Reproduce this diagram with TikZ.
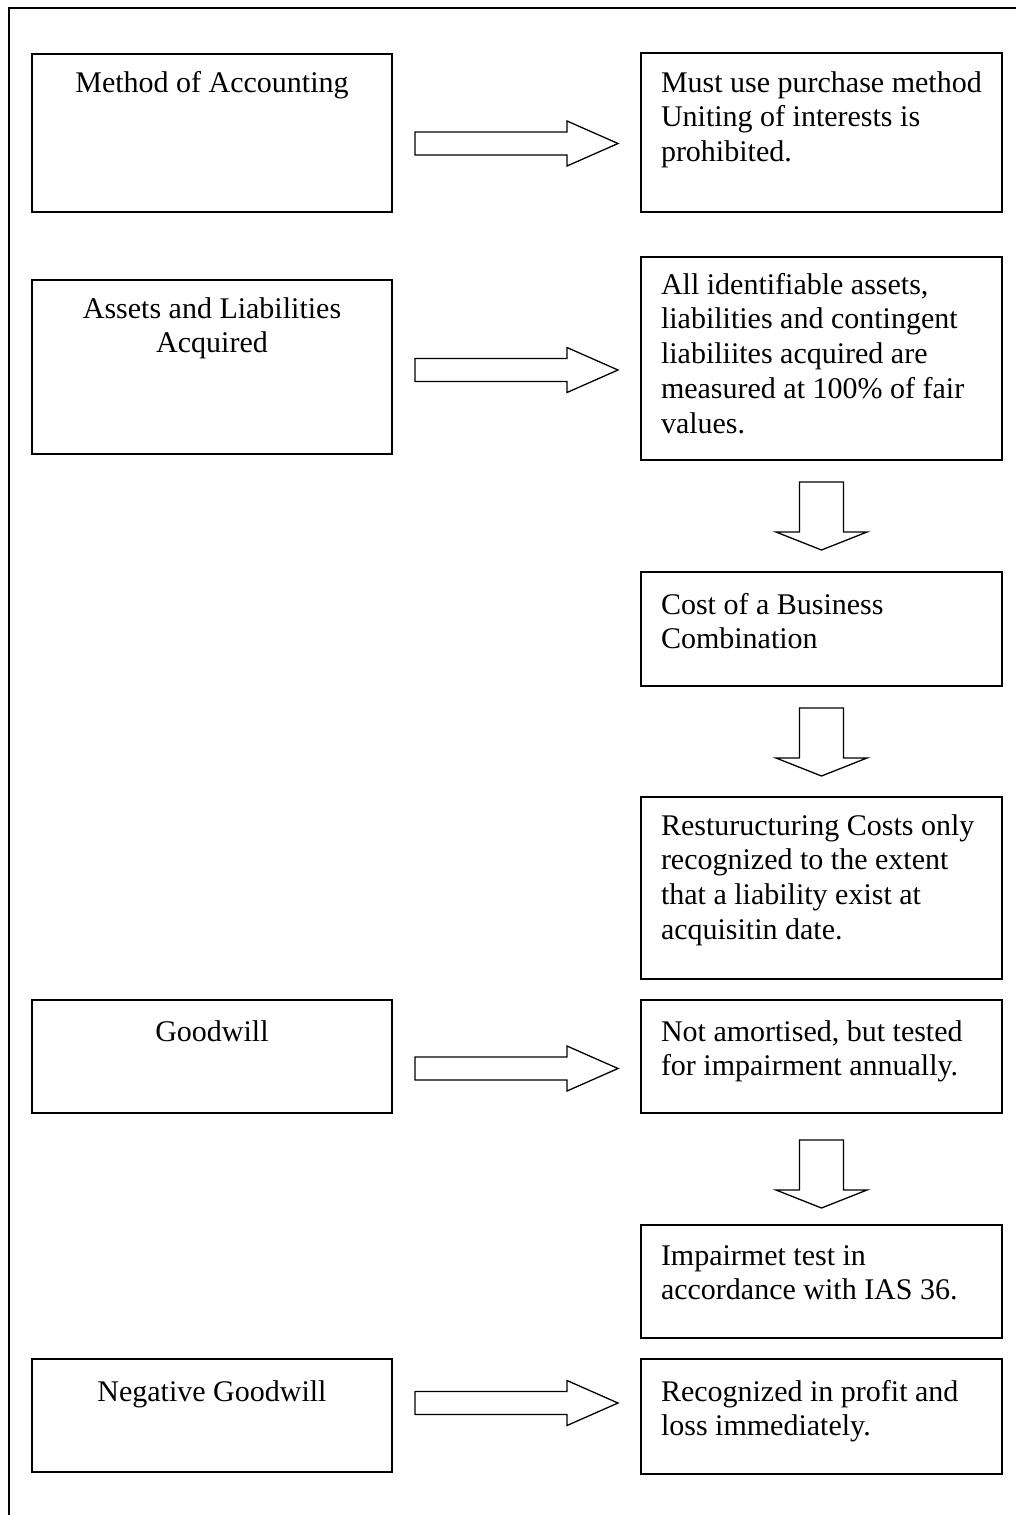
\documentclass[tikz,border=0pt]{standalone}
\usepackage{fontspec}
\setmainfont{Liberation Serif}
% text blocks whose reference point is the baseline of their first line
\newcommand\leftlines[1]{\vtop{\baselineskip=34.75pt\lineskiplimit=-100pt\halign{##\hfil\cr#1\crcr}}}
\newcommand\centerlines[1]{\vtop{\baselineskip=34.75pt\lineskiplimit=-100pt\halign{\hfil##\hfil\cr#1\crcr}}}
\tikzset{
  box/.style={draw=black, line width=1.6pt, fill=white, inner sep=0pt, outer sep=0pt},
  txt/.style={inner sep=0pt, outer sep=0pt, font=\fontsize{30}{34.75}\selectfont},
  ltxt/.style={txt, anchor=base west},
  ctxt/.style={txt, anchor=base},
  blockarrow/.style={draw=black, line width=1.3pt, fill=white, line join=miter},
  frameline/.style={draw=black, line width=1.4pt},
  rarrow/.pic={\path[blockarrow] (0,-11.5) -- (152,-11.5) -- (152,-22.5) -- (203,0)
        -- (152,22.5) -- (152,11.5) -- (0,11.5) -- cycle;},
  darrow/.pic={\path[blockarrow] (-22,0) -- (-22,50) -- (-45.5,50) -- (0,68)
        -- (45.5,50) -- (22,50) -- (22,0) -- cycle;}
}
\begin{document}
\begin{tikzpicture}[x=1pt, y=-1pt]
\useasboundingbox (0,0) rectangle (1016,1515);
% open page frame
\draw[frameline] (9,1520) -- (9,8) -- (1020,8);

% left column
\node[box, minimum width=360pt, minimum height=158pt] (L1) at (212,133) {};
\node[box, minimum width=360pt, minimum height=174pt] (L2) at (212,367) {};
\node[box, minimum width=360pt, minimum height=113pt] (L5) at (212,1056.5) {};
\node[box, minimum width=360pt, minimum height=113pt] (L7) at (212,1415.5) {};

% right column
\node[box, minimum width=361pt, minimum height=159pt] (R1) at (821.5,132.5) {};
\node[box, minimum width=361pt, minimum height=203pt] (R2) at (821.5,358.5) {};
\node[box, minimum width=361pt, minimum height=114pt] (R3) at (821.5,629) {};
\node[box, minimum width=361pt, minimum height=182pt] (R4) at (821.5,888) {};
\node[box, minimum width=361pt, minimum height=113pt] (R5) at (821.5,1056.5) {};
\node[box, minimum width=361pt, minimum height=113pt] (R6) at (821.5,1281.5) {};
\node[box, minimum width=361pt, minimum height=115pt] (R7) at (821.5,1416.5) {};

% texts
\node[ctxt] (tL1) at (212,92) {\centerlines{Method of Accounting}};
\node[ctxt] (tL2) at (212,318) {\centerlines{Assets and Liabilities\cr Acquired}};
\node[ctxt] (tL5) at (212,1041) {\centerlines{Goodwill}};
\node[ctxt] (tL7) at (212,1401) {\centerlines{Negative Goodwill}};

\node[ltxt] (tR1) at (661,92) {\leftlines{Must use purchase method\cr Uniting of interests is\cr prohibited.}};
\node[ltxt] (tR2) at (661,294) {\leftlines{All identifiable assets,\cr liabilities and contingent\cr liabiliites acquired are\cr measured at 100\% of fair\cr values.}};
\node[ltxt] (tR3) at (661,614) {\leftlines{Cost of a Business\cr Combination}};
\node[ltxt] (tR4) at (661,835) {\leftlines{Resturucturing Costs only\cr recognized to the extent\cr that a liability exist at\cr acquisitin date.}};
\node[ltxt] (tR5) at (661,1041) {\leftlines{Not amortised, but tested\cr for impairment annually.}};
\node[ltxt] (tR6) at (661,1265) {\leftlines{Impairmet test in\cr accordance with IAS 36.}};
\node[ltxt] (tR7) at (661,1401) {\leftlines{Recognized in profit and\cr loss immediately.}};

% block arrows from left to right column
\pic at (415,143.5) {rarrow};
\pic at (415,370) {rarrow};
\pic at (415,1068.5) {rarrow};
\pic at (415,1403) {rarrow};

% block arrows down the right column
\pic at (821.5,482) {darrow};
\pic at (821.5,708) {darrow};
\pic at (821.5,1140) {darrow};
\end{tikzpicture}
\end{document}
